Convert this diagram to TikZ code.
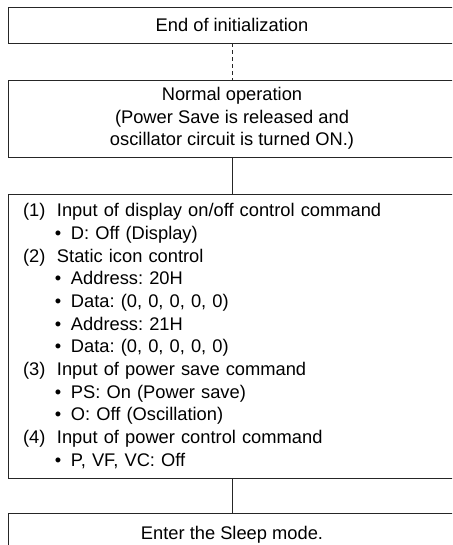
\documentclass[tikz,border=0pt]{standalone}
\usepackage{fontspec}
\setmainfont{Liberation Sans}
\frenchspacing
\begin{document}
\begin{tikzpicture}[x=1pt,y=-1pt,
  box/.style={draw=black!85, line width=0.9pt, minimum width=448pt, inner sep=0pt, align=center,
    font=\fontsize{18.3}{22.7}\selectfont\frenchspacing},
  conn/.style={draw=black!85, line width=0.9pt},
  dashconn/.style={conn, dash pattern=on 4pt off 3pt}]
\useasboundingbox (0,0) rectangle (452,545);
\clip (0,0) rectangle (452,545);
\node[box, minimum height=36pt] (b1) at (232,25) {End of initialization};
\node[box, minimum height=77pt] (b2) at (232,118.5) {Normal operation\\(Power Save is released and\\oscillator circuit is turned ON.)};
\node[box, minimum height=284pt, text width=448pt, inner xsep=0pt, align=left] (b3) at (232,336) {%
\hspace*{15pt}\makebox[34pt][l]{(1)}Input of display on/off control command\\
\hspace*{47pt}\makebox[16pt][l]{•}D: Off (Display)\\
\hspace*{15pt}\makebox[34pt][l]{(2)}Static icon control\\
\hspace*{47pt}\makebox[16pt][l]{•}Address: 20H\\
\hspace*{47pt}\makebox[16pt][l]{•}Data: (0, 0, 0, 0, 0)\\
\hspace*{47pt}\makebox[16pt][l]{•}Address: 21H\\
\hspace*{47pt}\makebox[16pt][l]{•}Data: (0, 0, 0, 0, 0)\\
\hspace*{15pt}\makebox[34pt][l]{(3)}Input of power save command\\
\hspace*{47pt}\makebox[16pt][l]{•}PS: On (Power save)\\
\hspace*{47pt}\makebox[16pt][l]{•}O: Off (Oscillation)\\
\hspace*{15pt}\makebox[34pt][l]{(4)}Input of power control command\\
\hspace*{47pt}\makebox[16pt][l]{•}P, VF, VC: Off};
\node[box, minimum height=44pt] (b4) at (232,535) {Enter the Sleep mode.};
\draw[dashconn] (b1.south) -- (b2.north);
\draw[conn] (b2.south) -- (b3.north);
\draw[conn] (b3.south) -- (b4.north);
\end{tikzpicture}
\end{document}
